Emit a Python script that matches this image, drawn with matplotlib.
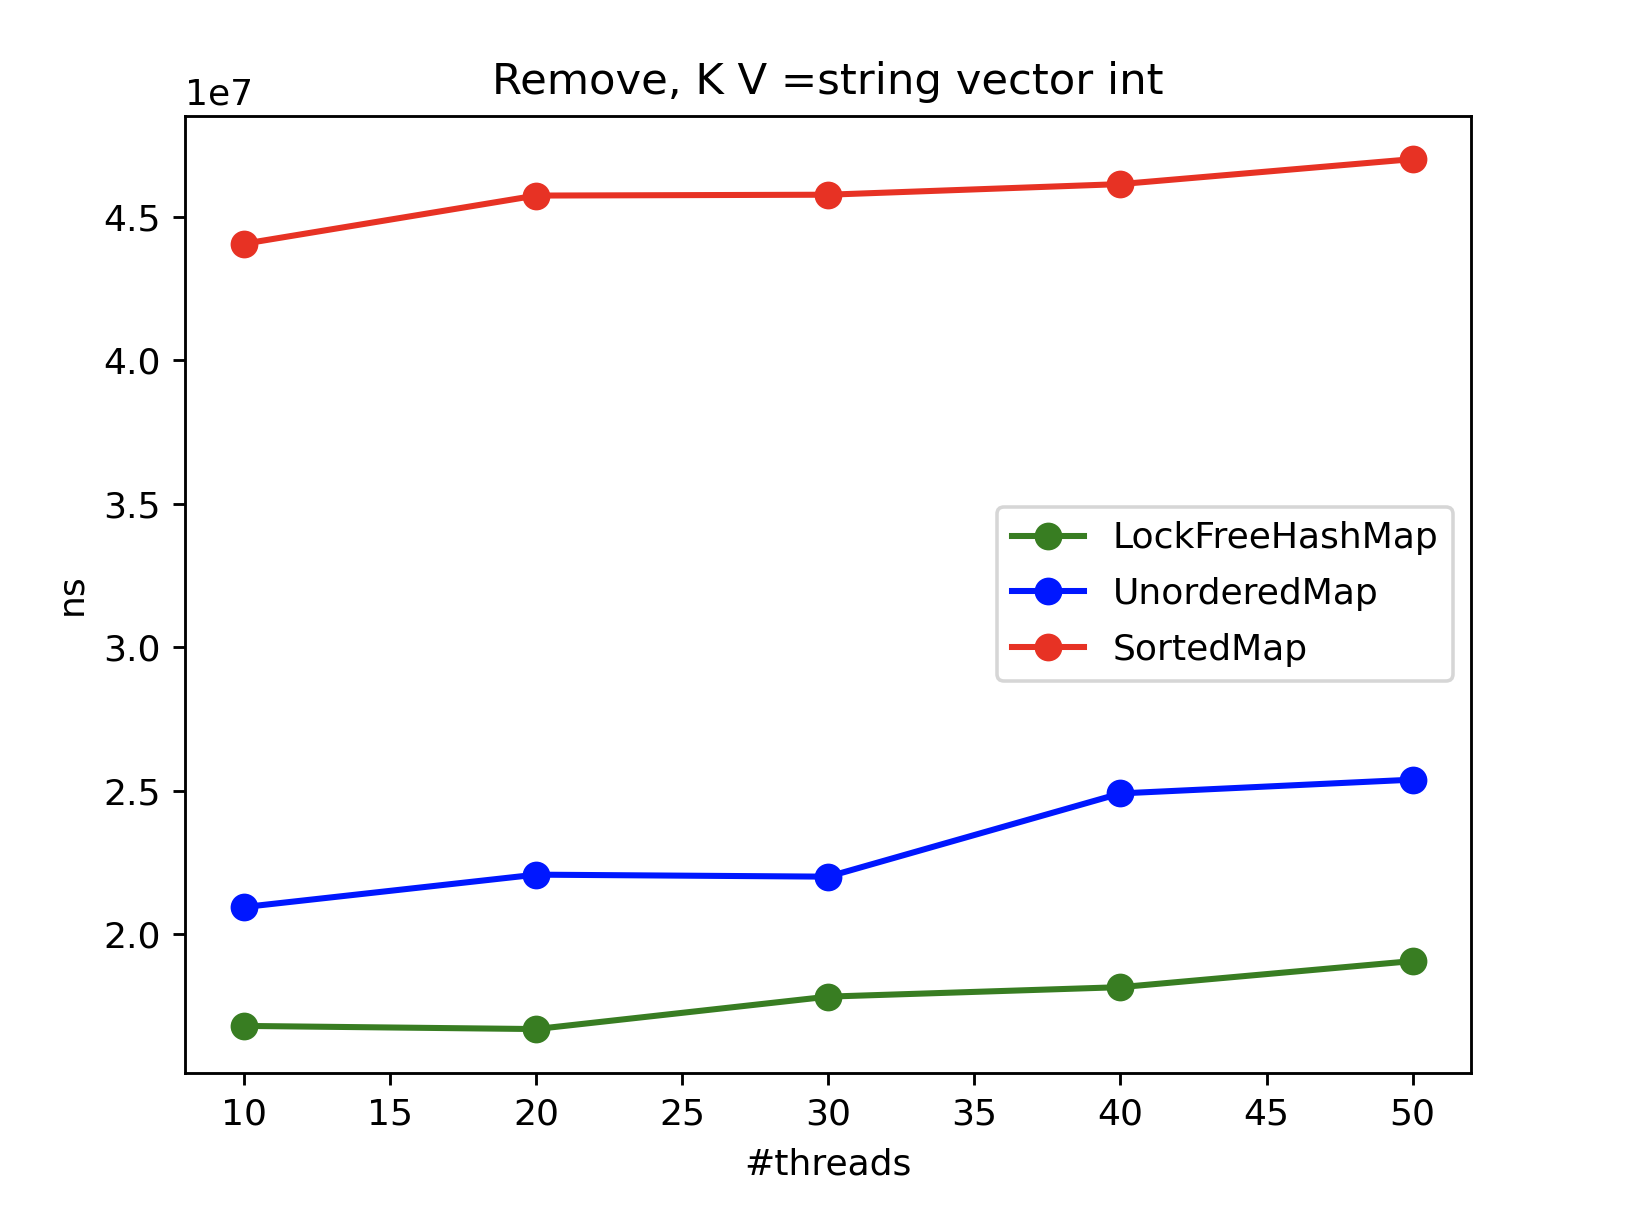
import matplotlib
matplotlib.use('Agg')
import matplotlib.pyplot as plt

threads = [10, 20, 30, 40, 50]
lockfree = [1.680e7, 1.669e7, 1.782e7, 1.815e7, 1.906e7]
unordered = [2.094e7, 2.207e7, 2.200e7, 2.490e7, 2.538e7]
sorted_map = [4.405e7, 4.573e7, 4.576e7, 4.613e7, 4.700e7]

plt.rcParams['font.size'] = 10.15

fig, ax = plt.subplots(figsize=(6.4, 4.8))
style = dict(marker='o', linewidth=1.7, markersize=6.8)
ax.plot(threads, lockfree, color='#387d22', label='LockFreeHashMap', **style)
ax.plot(threads, unordered, color='#0017ff', label='UnorderedMap', **style)
ax.plot(threads, sorted_map, color='#e73224', label='SortedMap', **style)

ax.set_title('Remove, K V =string vector int')
ax.set_xlabel('#threads', labelpad=4.5)
ax.set_ylabel('ns')
ax.legend(loc='center right', labelspacing=0.6)

fig.subplots_adjust(left=0.113, right=0.897, top=0.906, bottom=0.128)
fig.savefig('out.png', dpi=256.25)
